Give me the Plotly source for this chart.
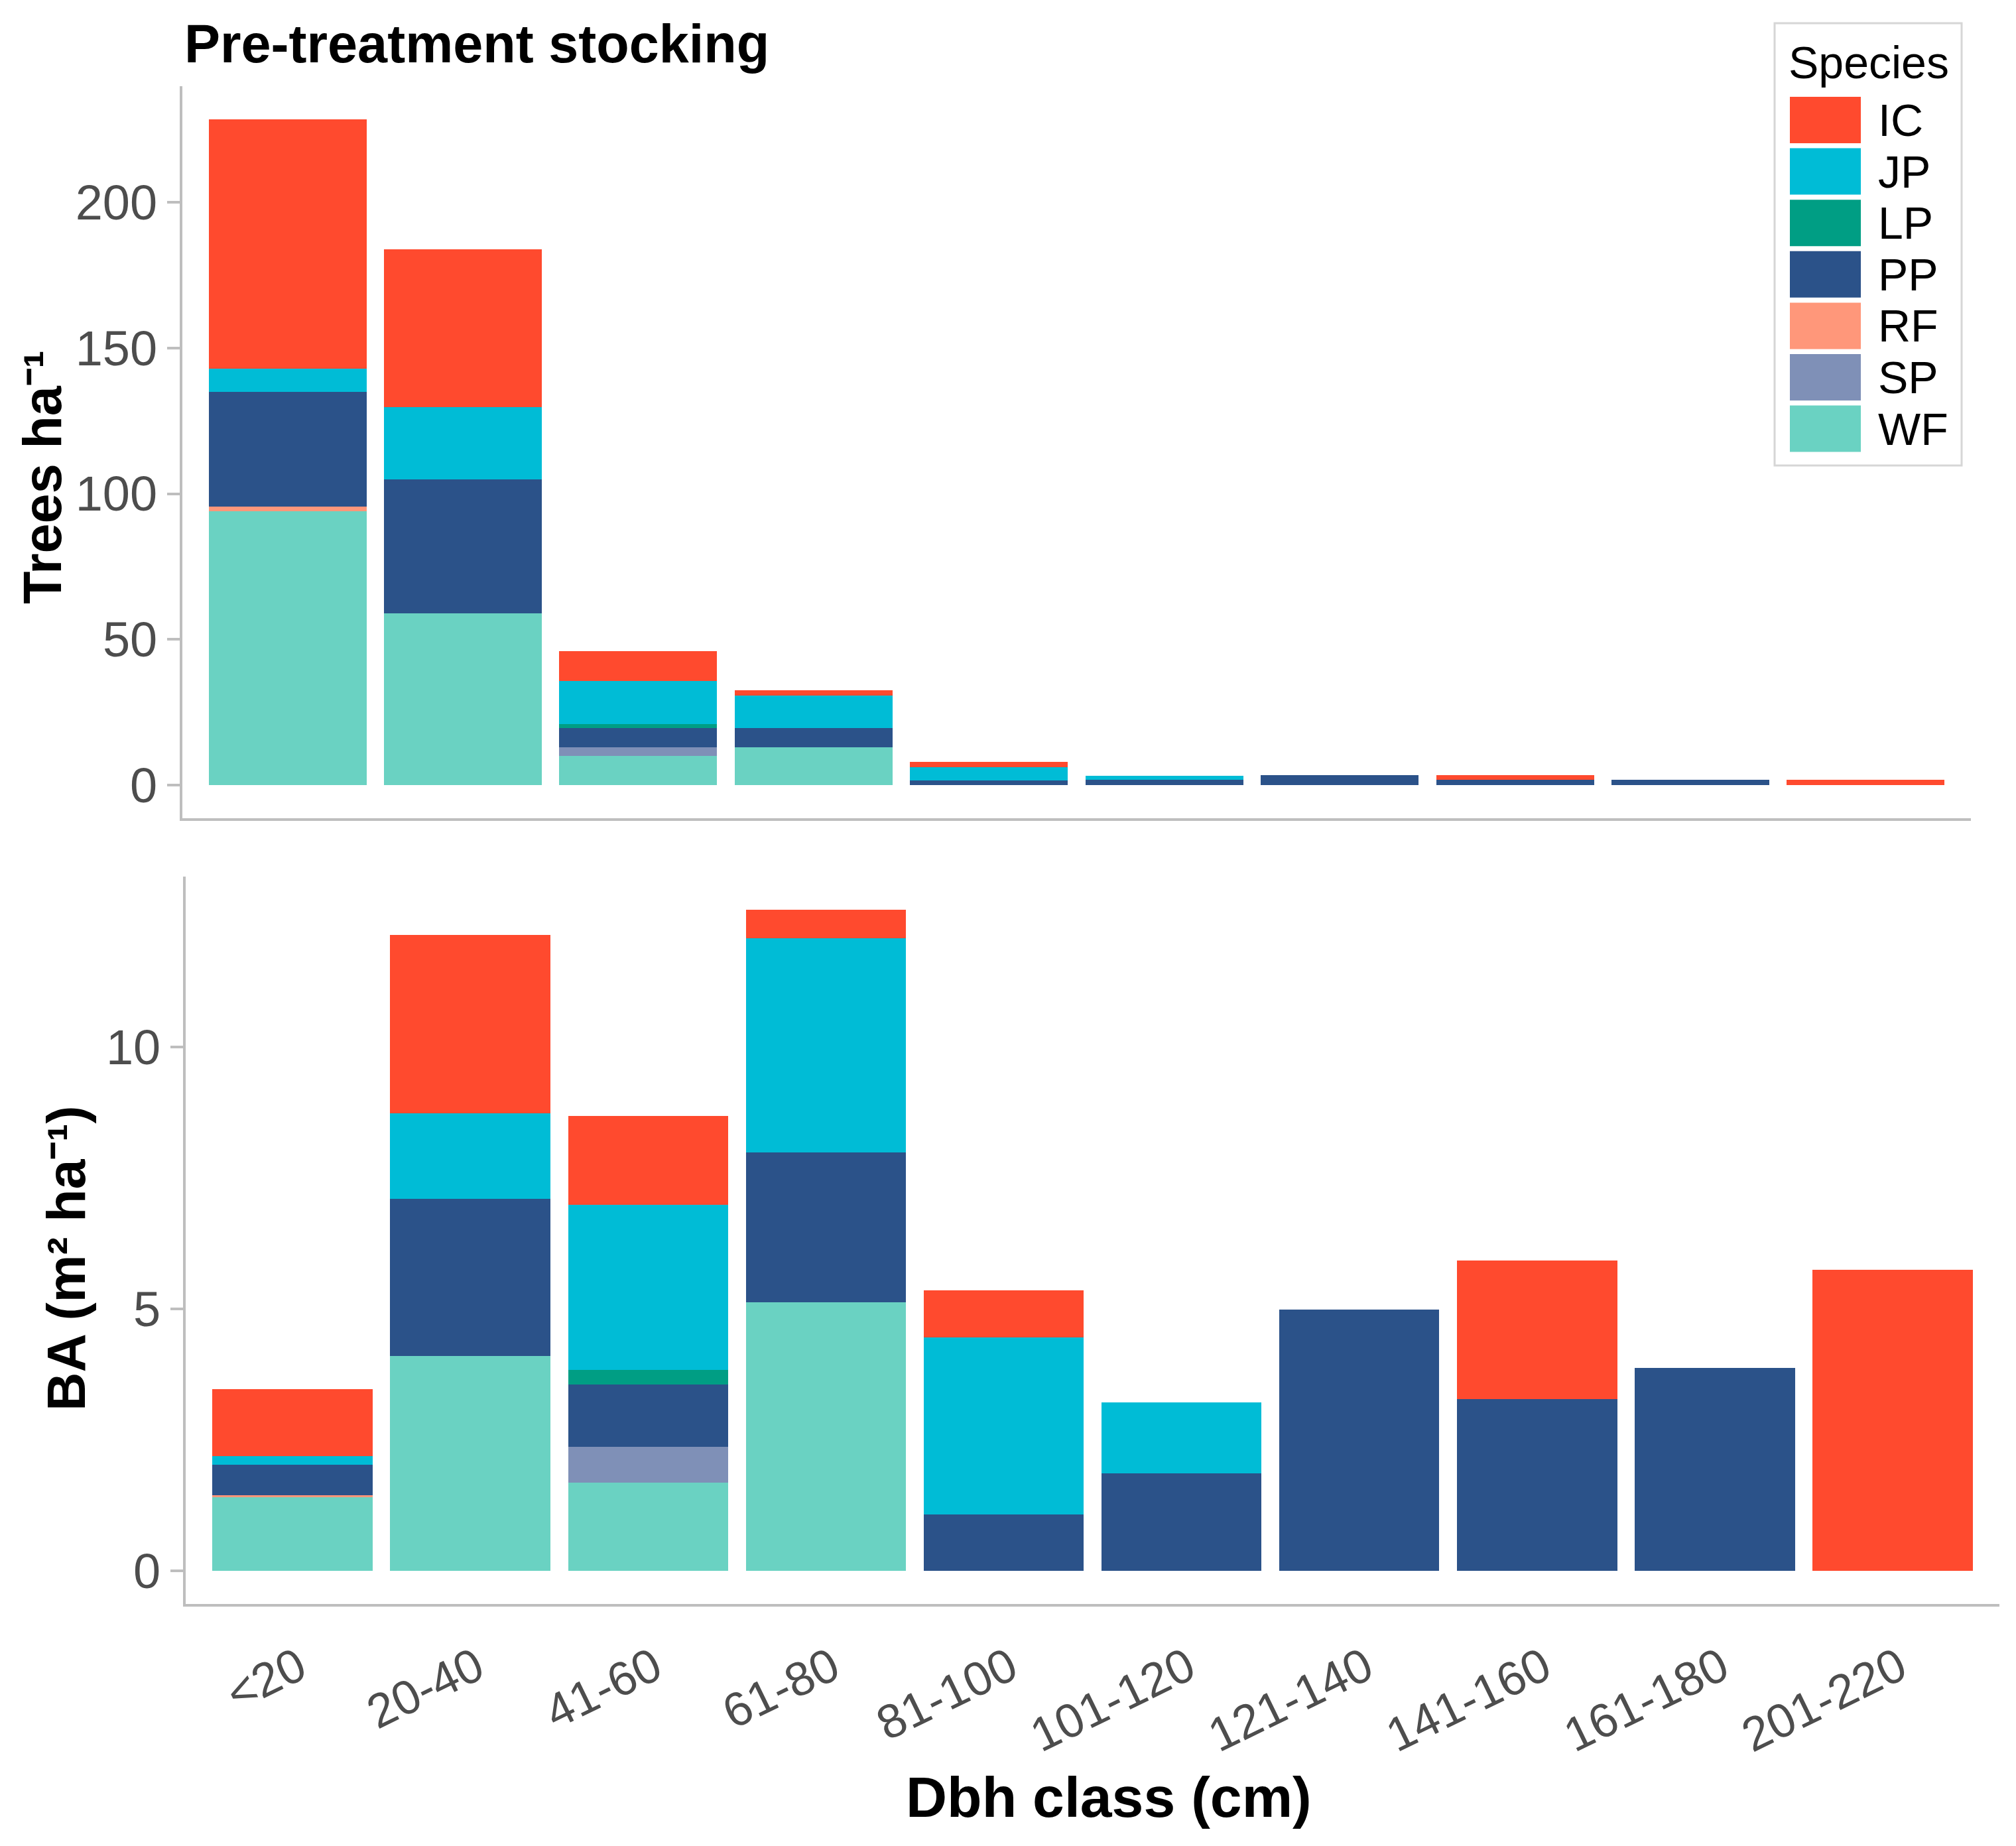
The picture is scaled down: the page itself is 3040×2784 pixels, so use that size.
import plotly.graph_objects as go

W, H = 3040, 2784

classes = ["<20", "20-40", "41-60", "61-80", "81-100", "101-120",
           "121-140", "141-160", "161-180", "201-220"]

species = ["IC", "JP", "LP", "PP", "RF", "SP", "WF"]
stack_order = ["WF", "SP", "RF", "PP", "LP", "JP", "IC"]  # bottom -> top

colors = {
    "IC": "#FF4A2E",
    "JP": "#00BCD6",
    "LP": "#009E84",
    "PP": "#2B5289",
    "RF": "#FF977A",
    "SP": "#7F90B7",
    "WF": "#6AD2C2",
}

# Trees per ha by species, per Dbh class
trees_WF = [94.0, 59.0, 9.9, 12.9, 0, 0, 0, 0, 0, 0]
trees_SP = [0, 0, 3.0, 0, 0, 0, 0, 0, 0, 0]
trees_RF = [1.5, 0, 0, 0, 0, 0, 0, 0, 0, 0]
trees_PP = [39.5, 46.0, 6.6, 6.6, 1.6, 1.7, 3.4, 1.7, 1.7, 0]
trees_LP = [0, 0, 1.4, 0, 0, 0, 0, 0, 0, 0]
trees_JP = [8.0, 24.7, 14.7, 11.2, 4.5, 1.5, 0, 0, 0, 0]
trees_IC = [85.5, 54.2, 10.3, 1.9, 1.9, 0, 0, 1.6, 0, 1.7]

# Basal area (m2 per ha) by species, per Dbh class
ba_WF = [1.41, 4.10, 1.68, 5.13, 0, 0, 0, 0, 0, 0]
ba_SP = [0, 0, 0.69, 0, 0, 0, 0, 0, 0, 0]
ba_RF = [0.03, 0, 0, 0, 0, 0, 0, 0, 0, 0]
ba_PP = [0.59, 3.00, 1.19, 2.86, 1.08, 1.86, 4.99, 3.28, 3.88, 0]
ba_LP = [0, 0, 0.27, 0, 0, 0, 0, 0, 0, 0]
ba_JP = [0.16, 1.63, 3.16, 4.08, 3.38, 1.35, 0, 0, 0, 0]
ba_IC = [1.28, 3.41, 1.69, 0.55, 0.89, 0, 0, 2.65, 0, 5.75]

trees = {"WF": trees_WF, "SP": trees_SP, "RF": trees_RF, "PP": trees_PP,
         "LP": trees_LP, "JP": trees_JP, "IC": trees_IC}
ba = {"WF": ba_WF, "SP": ba_SP, "RF": ba_RF, "PP": ba_PP,
      "LP": ba_LP, "JP": ba_JP, "IC": ba_IC}

trees_ticks = [0, 50, 100, 150, 200]
ba_ticks = [0, 5, 10]

FONT = "Liberation Sans, Arial, sans-serif"
TICK_COLOR = "#4D4D4D"
AXIS_COLOR = "#BEBEBE"


def px(xp):
    return xp / W


def py(yp):
    return 1 - yp / H


fig = go.Figure()
for sp in stack_order:
    fig.add_trace(go.Bar(x=classes, y=trees[sp], name=sp, marker_color=colors[sp],
                         marker_line_width=0, showlegend=False,
                         xaxis="x", yaxis="y"))
for sp in stack_order:
    fig.add_trace(go.Bar(x=classes, y=ba[sp], name=sp, marker_color=colors[sp],
                         marker_line_width=0, showlegend=False,
                         xaxis="x2", yaxis="y2"))

tot_trees = [sum(trees[s][i] for s in species) for i in range(len(classes))]
tot_ba = [sum(ba[s][i] for s in species) for i in range(len(classes))]
mt, mb = max(tot_trees), max(tot_ba)

axis_common = dict(showline=True, linecolor=AXIS_COLOR, linewidth=4,
                   showgrid=False, zeroline=False)

fig.update_layout(
    width=W, height=H,
    margin=dict(l=0, r=0, t=0, b=0),
    paper_bgcolor="white", plot_bgcolor="white",
    font=dict(family=FONT, color=TICK_COLOR),
    barmode="stack", bargap=0.1,
    xaxis=dict(domain=[px(267), px(2964)], anchor="y", type="category",
               categoryorder="array", categoryarray=classes,
               range=[-0.6, len(classes) - 0.4],
               showticklabels=False, ticks="", **axis_common),
    yaxis=dict(domain=[py(1226), py(122)], anchor="x",
               range=[-0.05 * mt, 1.05 * mt],
               tickvals=trees_ticks, ticks="outside", ticklen=19, tickwidth=4,
               tickcolor=AXIS_COLOR, tickfont=dict(size=74, color=TICK_COLOR),
               **axis_common),
    xaxis2=dict(domain=[px(272), px(3007)], anchor="y2", type="category",
                categoryorder="array", categoryarray=classes,
                range=[-0.6, len(classes) - 0.4],
                tickangle=-26, ticks="outside", ticklen=22,
                tickcolor="rgba(0,0,0,0)", ticklabelshift=10,
                tickfont=dict(size=72, color=TICK_COLOR), **axis_common),
    yaxis2=dict(domain=[py(2411), py(1314)], anchor="x2",
                range=[-0.05 * mb, 1.05 * mb],
                tickvals=ba_ticks, ticks="outside", ticklen=19, tickwidth=4,
                tickcolor=AXIS_COLOR, tickfont=dict(size=74, color=TICK_COLOR),
                **axis_common),
)

P = dict(xref="paper", yref="paper", showarrow=False)

annotations = [
    dict(text="<b>Pre-treatment stocking</b>", x=px(268), y=py(58),
         xanchor="left", yanchor="middle",
         font=dict(family=FONT, size=81, color="black"), **P),
    dict(text="<b>Trees ha⁻¹</b>", x=px(56), y=py(712),
         xanchor="center", yanchor="middle", textangle=-90,
         font=dict(family=FONT, size=81, color="black"), **P),
    dict(text="<b>BA (m² ha⁻¹)</b>", x=px(92), y=py(1890),
         xanchor="center", yanchor="middle", textangle=-90,
         font=dict(family=FONT, size=81, color="black"), **P),
    dict(text="<b>Dbh class (cm)</b>", x=px(1664), y=py(2702),
         xanchor="center", yanchor="middle",
         font=dict(family=FONT, size=86, color="black"), **P),
    dict(text="Species", x=px(2687), y=py(86), xanchor="left", yanchor="middle",
         font=dict(family=FONT, size=68, color="black"), **P),
]

shapes = [dict(type="rect", xref="paper", yref="paper",
               x0=px(2668), x1=px(2950), y0=py(694), y1=py(27),
               line=dict(color="#D6D6D6", width=3), fillcolor="white", layer="above")]

for i, sp in enumerate(species):
    cy = 173 + 77.6 * i
    shapes.append(dict(type="rect", xref="paper", yref="paper",
                       x0=px(2691), x1=px(2798), y0=py(cy + 35), y1=py(cy - 35),
                       line=dict(width=0), fillcolor=colors[sp], layer="above"))
    annotations.append(dict(text=sp, x=px(2822), y=py(cy), xanchor="left",
                            yanchor="middle",
                            font=dict(family=FONT, size=68, color="black"), **P))

fig.update_layout(annotations=annotations, shapes=shapes)

fig.write_html("out.html")
